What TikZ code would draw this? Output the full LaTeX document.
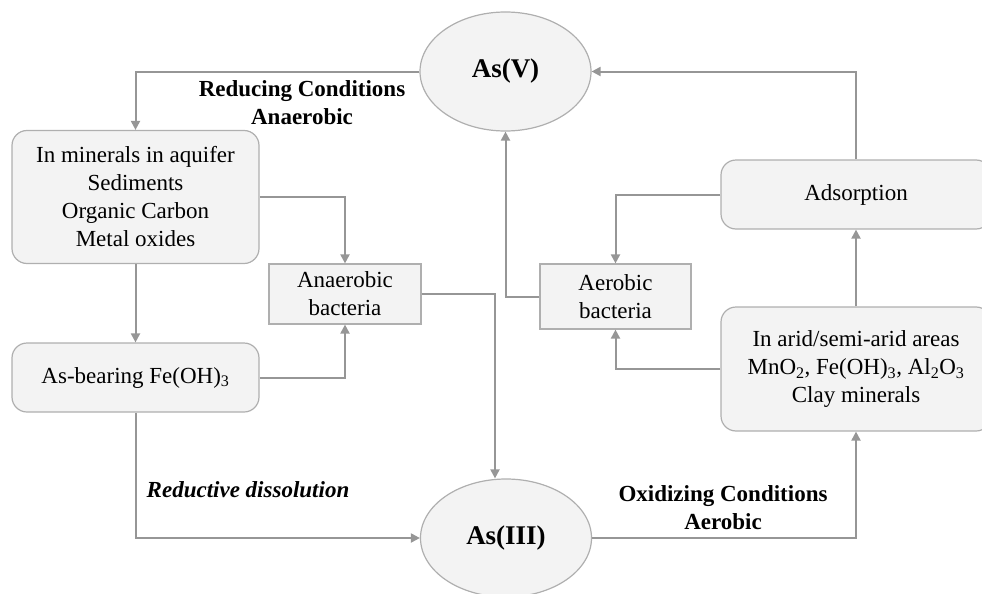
\documentclass[tikz,border=0pt]{standalone}
\usepackage{fontspec}
\setmainfont{Liberation Serif}
\usetikzlibrary{arrows.meta,shapes.geometric}
\definecolor{linegray}{RGB}{150,150,150}
\definecolor{boxfill}{RGB}{243,243,243}
\definecolor{boxdraw}{RGB}{175,175,175}
\tikzset{
  txt/.style={font=\fontsize{23}{28}\selectfont, align=center},
  roundbox/.style={txt, draw=boxdraw, fill=boxfill, line width=1.2pt, rounded corners=15pt, inner sep=0pt},
  plainbox/.style={txt, draw=boxdraw, fill=boxfill, line width=1.2pt, inner sep=0pt},
  species/.style={ellipse, draw=boxdraw, fill=boxfill, line width=1.2pt, inner sep=0pt,
    font=\fontsize{27}{32}\selectfont\bfseries},
  flow/.style={draw=linegray, line width=2pt, -{Triangle[length=9pt,width=9pt]}},
  cond/.style={txt, font=\fontsize{23}{28}\selectfont\bfseries}
}
\begin{document}
\begin{tikzpicture}[x=1pt,y=-1pt]
  \useasboundingbox (0,0) rectangle (982,594);
  % arsenic species
  \node[species, minimum width=171pt, minimum height=119pt] (asv) at (505.5,71.5) {As(V)};
  \node[species, minimum width=171pt, minimum height=118pt] (asiii) at (506,538) {As(III)};
  % reducing side
  \node[roundbox, minimum width=247pt, minimum height=133pt] (minerals) at (135.5,197)
    {In minerals in aquifer\\Sediments\\Organic Carbon\\Metal oxides};
  \node[plainbox, minimum width=152pt, minimum height=60pt] (anaer) at (345,294) {Anaerobic\\bacteria};
  \node[roundbox, minimum width=247pt, minimum height=69pt] (asbear) at (135.5,377.5)
    {As-bearing Fe(OH)\textsubscript{3}};
  % oxidizing side
  \node[plainbox, minimum width=151pt, minimum height=65pt] (aerob) at (615.5,296.5) {Aerobic\\bacteria};
  \node[roundbox, minimum width=270pt, minimum height=69pt] (adsorp) at (856,194.5) {Adsorption};
  \node[roundbox, minimum width=270pt, minimum height=124pt] (arid) at (856,369)
    {In arid/semi-arid areas\\MnO\textsubscript{2}, Fe(OH)\textsubscript{3}, Al\textsubscript{2}O\textsubscript{3}\\Clay minerals};
  \coordinate (drop) at (495,0);
  % connectors
  \draw[flow] (asv.west) -| (minerals.north);
  \draw[flow] (minerals.east) -| (anaer.north);
  \draw[flow] (minerals.south) -- (asbear.north);
  \draw[flow] (asbear.east) -| (anaer.south);
  \draw[flow] (anaer.east) -| (drop |- asiii.north);
  \draw[flow] (asbear.south) |- (asiii.west);
  \draw[flow] (asiii.east) -| (arid.south);
  \draw[flow] (arid.north) -- (adsorp.south);
  \draw[flow] (adsorp.north) |- (asv.east);
  \draw[flow] (adsorp.west) -| (aerob.north);
  \draw[flow] (arid.west) -| (aerob.south);
  \draw[flow] (aerob.west) -| (asv.south);
  % labels
  \node[cond] (redlab) at (302,103) {Reducing Conditions\\Anaerobic};
  \node[cond, font=\fontsize{23}{28}\selectfont\bfseries\itshape] (dislab) at (248,490) {Reductive dissolution};
  \node[cond] (oxlab) at (723,508) {Oxidizing Conditions\\Aerobic};
\end{tikzpicture}
\end{document}
